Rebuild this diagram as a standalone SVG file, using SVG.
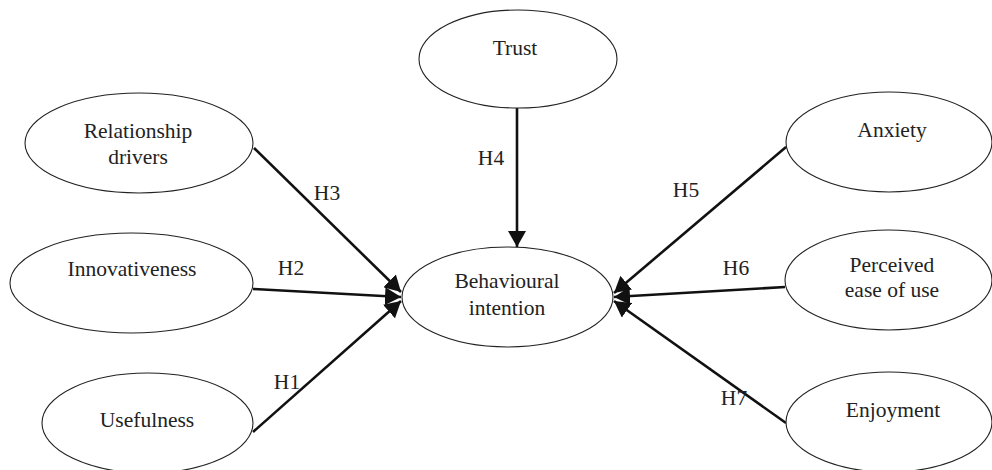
<svg xmlns="http://www.w3.org/2000/svg" width="992" height="470" viewBox="0 0 992 470">
<style>
.n ellipse{fill:#fff;stroke:#222;stroke-width:1.1}
text{font-family:"Liberation Serif","Times New Roman",serif;font-size:21.5px;fill:#222;text-anchor:middle}
.c line{stroke:#111;stroke-width:2.6;marker-end:url(#ah)}
</style>
<defs>
<marker id="ah" markerUnits="userSpaceOnUse" markerWidth="18" markerHeight="18" refX="16" refY="9" orient="auto">
<path d="M0,0 L16,9 L0,18 Z" fill="#111"/>
</marker>
</defs>
<rect width="992" height="470" fill="#fff"/>
<g class="c">
<line x1="254" y1="148" x2="401" y2="292"/>
<line x1="253" y1="289" x2="401" y2="297"/>
<line x1="253" y1="432" x2="401" y2="301"/>
<line x1="517" y1="108" x2="517" y2="247"/>
<line x1="786" y1="147" x2="614" y2="293"/>
<line x1="785" y1="287" x2="614" y2="297"/>
<line x1="786" y1="423" x2="614" y2="301"/>
</g>
<g class="c-labels">
<text x="327" y="200">H3</text>
<text x="291" y="275">H2</text>
<text x="287" y="389">H1</text>
<text x="491" y="165">H4</text>
<text x="686" y="197">H5</text>
<text x="736" y="275">H6</text>
<text x="734" y="405">H7</text>
</g>
<g id="trust" class="n"><ellipse cx="518" cy="59" rx="99" ry="49"/><text x="515" y="55">Trust</text></g>
<g id="relationship" class="n"><ellipse cx="139" cy="143" rx="114" ry="50"/><text x="138" y="138">Relationship</text><text x="138" y="164">drivers</text></g>
<g id="innovativeness" class="n"><ellipse cx="131.5" cy="283" rx="121.5" ry="50"/><text x="132" y="276">Innovativeness</text></g>
<g id="usefulness" class="n"><ellipse cx="147.5" cy="423" rx="105.5" ry="50"/><text x="147" y="427">Usefulness</text></g>
<g id="behavioural" class="n"><ellipse cx="507.5" cy="297" rx="105.5" ry="50"/><text x="507" y="288">Behavioural</text><text x="507" y="315">intention</text></g>
<g id="anxiety" class="n"><ellipse cx="889" cy="142" rx="103" ry="50"/><text x="892" y="137">Anxiety</text></g>
<g id="perceived" class="n"><ellipse cx="888.5" cy="280" rx="103.5" ry="50"/><text x="892" y="272">Perceived</text><text x="892" y="297">ease of use</text></g>
<g id="enjoyment" class="n"><ellipse cx="889" cy="422" rx="103" ry="50"/><text x="893" y="417">Enjoyment</text></g>
</svg>
